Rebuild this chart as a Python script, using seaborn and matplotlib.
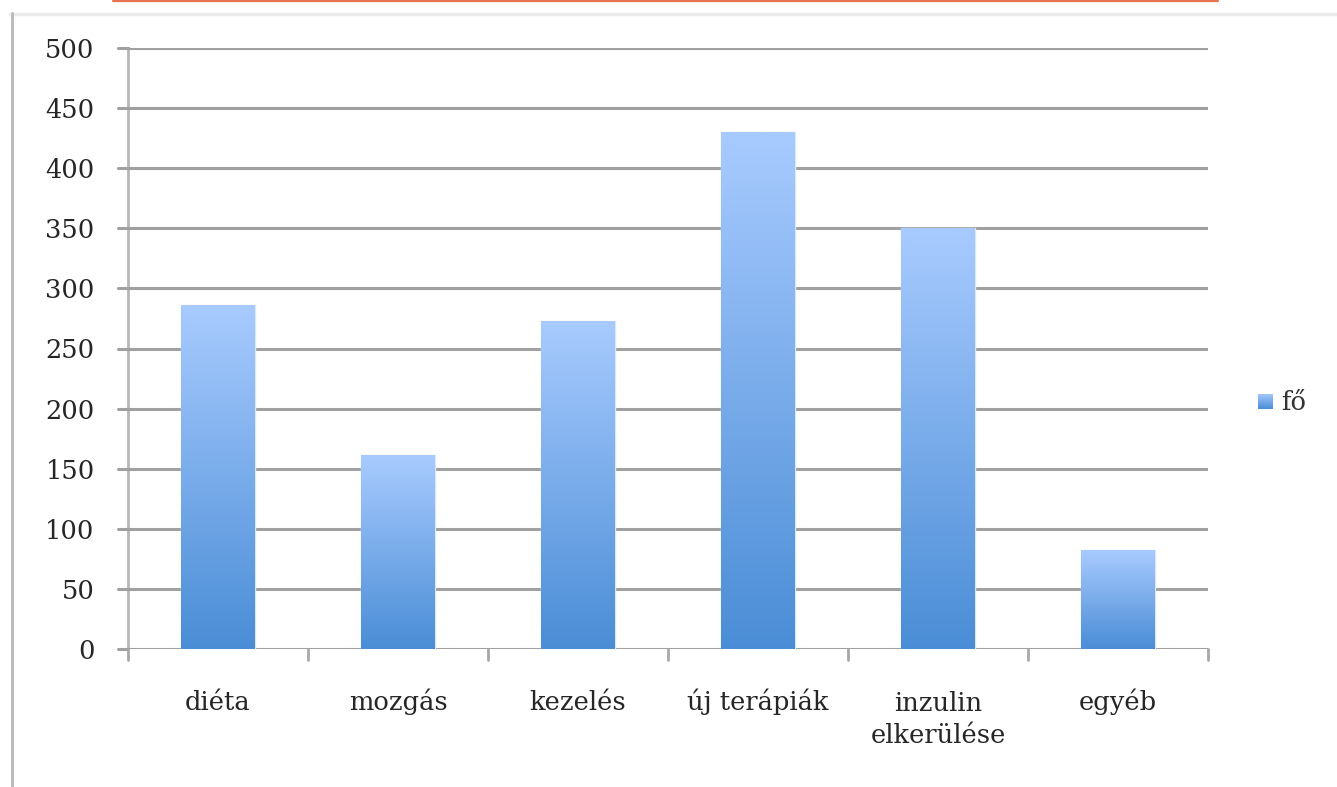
import numpy as np
import matplotlib.pyplot as plt
import seaborn as sns
import pandas as pd
from matplotlib.lines import Line2D
from matplotlib.colors import LinearSegmentedColormap
from matplotlib.transforms import ScaledTranslation

categories = ['diéta', 'mozgás', 'kezelés', 'új terápiák', 'inzulin\nelkerülése', 'egyéb']
values = [286, 161, 273, 430, 350, 82]
series_name = 'fő'
yticks = [0, 50, 100, 150, 200, 250, 300, 350, 400, 450, 500]

df = pd.DataFrame({'kategoria': categories, 'fo': values})

sns.set_style('white')
plt.rcParams['font.family'] = ['DejaVu Serif', 'Liberation Serif']

W, H = 1337, 787
fig = plt.figure(figsize=(W / 100, H / 100), dpi=100)
ax = fig.add_axes([128 / W, 1 - 649 / H, (1208 - 128) / W, (649 - 48) / H])

sns.barplot(data=df, x='kategoria', y='fo', ax=ax, width=0.41, color='#6fa3e6')

# gradient fill for bars
cmap = LinearSegmentedColormap.from_list('grad', ['#4a8dd6', '#a8cbff'])
grad = np.linspace(0, 1, 256).reshape(-1, 1)
for p in ax.patches:
    x0, y0 = p.get_x(), p.get_y()
    w, h = p.get_width(), p.get_height()
    im = ax.imshow(grad, cmap=cmap, origin='lower', aspect='auto',
                   extent=[x0, x0 + w, y0, y0 + h], zorder=3)
    im.set_clip_path(p)
    p.set_facecolor('none')
    p.set_edgecolor('#dde8f5')
    p.set_linewidth(1.0)
    p.set_zorder(3)

ax.set_xlim(-0.5, len(categories) - 0.5)
ax.set_ylim(0, 500)
ax.set_yticks(yticks)
ax.set_yticklabels([str(t) for t in yticks], fontsize=18.5, color='#262626')
ax.set_xticks(range(len(categories)))
ax.set_xticklabels(categories, fontsize=18.5, color='#262626', linespacing=1.35, va='baseline')
ax.tick_params(axis='x', length=0, pad=44)
ax.tick_params(axis='y', length=0, pad=24)

# multi-line label: keep first line on the common baseline
for lbl in ax.get_xticklabels():
    n = lbl.get_text().count('\n')
    if n:
        lbl.set_transform(lbl.get_transform() + ScaledTranslation(0, -0.325 * n, fig.dpi_scale_trans))

# horizontal gridlines
for t in yticks:
    ax.axhline(t, color='#a0a0a0', lw=2.2, zorder=1)
    ax.plot([-0.5 - 0.055, -0.5], [t, t], color='#a0a0a0', lw=2.2, clip_on=False)

# category boundary ticks below the axis
for b in np.arange(-0.5, len(categories), 1.0):
    ax.plot([b, b], [0, -9], color='#a8a8a8', lw=2.0, clip_on=False)

ax.set_xlabel('')
ax.set_ylabel('')
for s in ['top', 'right', 'bottom']:
    ax.spines[s].set_visible(False)
ax.spines['left'].set_color('#b8b8b8')
ax.spines['left'].set_linewidth(2)
ax.spines['left'].set_zorder(0)

# legend with gradient swatch
lax = fig.add_axes([1258 / W, 1 - 409 / H, 15 / W, 15 / H])
lax.imshow(grad, cmap=cmap, origin='lower', aspect='auto')
lax.axis('off')
fig.text(1281 / W, 1 - 402 / H, series_name, fontsize=18.5, color='#333333', va='center', ha='left')

# page frame lines
fig.add_artist(Line2D([113 / W, 1218 / W], [1 - 0.8 / H, 1 - 0.8 / H], color='#e8744f', lw=1.6))
fig.add_artist(Line2D([10 / W, 1.0], [1 - 14 / H, 1 - 14 / H], color='#ebebeb', lw=2.5))
fig.add_artist(Line2D([12 / W, 12 / W], [0, 1 - 13 / H], color='#b8b8b8', lw=2))

fig.savefig('out.png', dpi=100)
